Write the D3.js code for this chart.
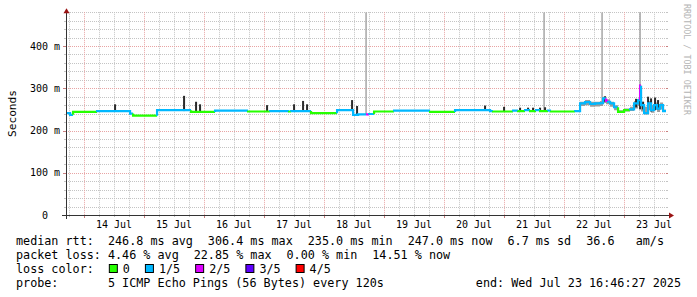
<!DOCTYPE html>
<html>
<head>
<meta charset="utf-8">
<script src="https://cdn.jsdelivr.net/npm/d3@7"></script>
<style>
  html, body { margin: 0; padding: 0; background: #fff; }
  svg { display: block; }
  text { font-family: "DejaVu Sans Mono", monospace; white-space: pre; }
</style>
</head>
<body>
<svg id="chart" width="697" height="297"></svg>
<script>
// 시간축: 13 Jul 00:00 기준 시간(h)
const endTime = new Date(2025, 6, 23, 16, 46, 27);
const startTime = new Date(endTime.getTime() - 10 * 24 * 3600e3);
const baseDay = new Date(2025, 6, 13);

// median rtt (ms), 스텝 시작 시각, loss 단계 (0..4)
const medHours = [16.8, 18.4, 19.6, 29.2, 42.4, 43.6, 53.2, 66.8, 76.4, 89.6, 98.4, 106.0, 106.8, 114.8, 125.2, 131.6, 133.6, 136.8, 138.0, 140.0, 148.0, 162.4, 172.4, 186.4, 187.6, 195.6, 197.6, 200.4, 202.4, 204.8, 206.4, 209.6, 210.8, 220.4, 222.4, 224.4, 226.4, 228.4, 230.4, 231.6, 232.8, 233.6, 234.4, 236.0, 237.6, 240.0, 242.4, 244.0, 245.6, 246.4, 246.8, 248.0, 249.6, 250.8, 252.0, 253.2, 254.4, 255.6];
const medMs = [241, 237, 244, 246, 240, 235, 248, 244, 247, 245, 246, 245, 246, 241, 248, 237, 238, 238, 239, 245, 247, 244, 248, 246, 245, 247, 246, 248, 246, 248, 246, 247, 245, 246, 264, 267, 263, 264, 265, 276, 270, 268, 264, 255, 244, 248, 250, 264, 272, 306, 260, 241, 264, 248, 260, 252, 260, 246];
const medLoss = [1, 1, 0, 1, 1, 0, 1, 0, 1, 0, 1, 0, 1, 0, 1, 1, 1, 2, 1, 0, 1, 0, 1, 1, 0, 1, 0, 1, 0, 1, 0, 1, 0, 1, 1, 1, 1, 1, 1, 1, 2, 1, 1, 1, 0, 0, 1, 1, 1, 2, 1, 1, 1, 1, 1, 1, 1, 1];

// 짙은 smoke 스파이크
const spikeHours = [36.4, 64.0, 68.8, 70.4, 97.2, 108.0, 111.6, 113.2, 131.2, 133.2, 184.4, 192.0, 198.4, 201.6, 203.6, 206.4, 208.4, 232.4, 244.8, 246.4, 247.6, 249.6, 250.8, 252.4, 253.6];
const spikeLo = [246, 246, 246, 246, 245, 246, 246, 246, 248, 238, 248, 245, 247, 247, 247, 247, 247, 268, 255, 250, 250, 245, 245, 248, 250];
const spikeHi = [262, 282, 268, 262, 260, 262, 270, 262, 272, 258, 259, 256, 254, 254, 254, 254, 255, 281, 275, 308, 268, 280, 276, 278, 272];

// 옅은 smoke 띠 (22~23 Jul)
const bandHours = [222.4, 224.4, 226.4, 228.4, 230.4, 231.6, 232.8, 234.4, 236.0, 237.6, 240.0, 242.4, 244.0, 245.6, 246.8, 248.0, 249.6, 250.8, 252.0, 253.2, 254.4, 255.6];
const bandLo = [258, 260, 256, 257, 258, 265, 262, 256, 248, 242, 245, 246, 252, 258, 245, 238, 248, 242, 250, 244, 250, 244];
const bandHi = [268, 272, 268, 268, 270, 280, 274, 268, 260, 248, 252, 256, 270, 276, 268, 256, 270, 260, 266, 262, 266, 250];

// 위로 튀는 회색 선
const outlierHours = [136.8, 208.0, 231.2, 246.4];
const outlierLo = [238, 248, 265, 300];

const yMajor = [0, 100, 200, 300, 400];
const lossLabels = ["0", "1/5", "2/5", "3/5", "4/5"];
const lossColors = ["#26ff00", "#00b8ff", "#dd00ff", "#5e00ff", "#ff0000"];

const legendRows = [
  ["median rtt:  246.8 ms avg", "306.4 ms max", "235.0 ms min", "247.0 ms now", "6.7 ms sd", "36.6   am/s"],
  ["packet loss: 4.46 % avg", "22.85 % max", "0.00 % min", "14.51 % now"]
];
const probeText = "probe:       5 ICMP Echo Pings (56 Bytes) every 120s";
const endText = "end: Wed Jul 23 16:46:27 2025";

const svg = d3.select("#chart");
const X0 = 66, X1 = 666, Y0 = 215, Y1 = 12.2;
const hourToDate = h => new Date(baseDay.getTime() + h * 3600e3);

const x = d3.scaleTime().domain([startTime, endTime]).range([X0, X1]);
const y = d3.scaleLinear().domain([0, 480]).range([Y0, Y1]);

const gridCol = "#c4c4c4", mgridCol = "#e8a4a4", mtickCol = "#c88080";

// 그리드
const grid = svg.append("g");
const minorY = d3.range(20, 481, 20).filter(v => v % 100 !== 0);
minorY.forEach(v => {
  const yy = Math.round(y(v)) + 0.5;
  grid.append("line").attr("x1", X0).attr("x2", X1).attr("y1", yy).attr("y2", yy)
    .attr("stroke", gridCol).attr("stroke-dasharray", "1,1");
  grid.append("line").attr("x1", X0 - 2).attr("x2", X0).attr("y1", yy).attr("y2", yy).attr("stroke", gridCol);
  grid.append("line").attr("x1", X1).attr("x2", X1 + 2).attr("y1", yy).attr("y2", yy).attr("stroke", gridCol);
});
const minorX = d3.timeHour.every(6).range(startTime, endTime).filter(d => d.getHours() !== 0);
minorX.forEach(d => {
  const xx = Math.round(x(d)) + 0.5;
  grid.append("line").attr("x1", xx).attr("x2", xx).attr("y1", Y1).attr("y2", Y0)
    .attr("stroke", gridCol).attr("stroke-dasharray", "1,1");
  grid.append("line").attr("x1", xx).attr("x2", xx).attr("y1", Y0).attr("y2", Y0 + 2).attr("stroke", gridCol);
});
yMajor.filter(v => v > 0).forEach(v => {
  const yy = Math.round(y(v)) + 0.5;
  grid.append("line").attr("x1", X0).attr("x2", X1).attr("y1", yy).attr("y2", yy)
    .attr("stroke", mgridCol).attr("stroke-dasharray", "1,1");
  grid.append("line").attr("x1", X0 - 3).attr("x2", X0).attr("y1", yy).attr("y2", yy).attr("stroke", mtickCol);
  grid.append("line").attr("x1", X1).attr("x2", X1 + 2).attr("y1", yy).attr("y2", yy).attr("stroke", mtickCol);
});
d3.timeDay.range(startTime, endTime).forEach(d => {
  const xx = Math.round(x(d)) + 0.5;
  grid.append("line").attr("x1", xx).attr("x2", xx).attr("y1", Y1).attr("y2", Y0)
    .attr("stroke", mgridCol).attr("stroke-dasharray", "1,1");
  grid.append("line").attr("x1", xx).attr("x2", xx).attr("y1", Y0).attr("y2", Y0 + 3).attr("stroke", mtickCol);
});

// 데이터 영역
svg.append("clipPath").attr("id", "plot")
  .append("rect").attr("x", X0).attr("y", Y1).attr("width", X1 - X0).attr("height", Y0 - Y1);
const plot = svg.append("g").attr("clip-path", "url(#plot)");

const stepPts = hours => hours.flatMap((h, i) => {
  const next = i + 1 < hours.length ? hourToDate(hours[i + 1]) : endTime;
  return [{ t: hourToDate(h), i }, { t: next, i }];
});

// 옅은 smoke
plot.append("path")
  .attr("d", d3.area().x(d => x(d.t)).y0(d => y(bandLo[d.i])).y1(d => y(bandHi[d.i]))(stepPts(bandHours)))
  .attr("fill", "#9c9c9c");

// 회색 outlier
outlierHours.forEach((h, i) => {
  plot.append("line")
    .attr("x1", x(hourToDate(h))).attr("x2", x(hourToDate(h)))
    .attr("y1", y(outlierLo[i])).attr("y2", y(480))
    .attr("stroke", "#a0a0a0").attr("stroke-width", 1.4);
});

// 짙은 smoke
plot.selectAll("rect.spike").data(spikeHours).join("rect")
  .attr("class", "spike")
  .attr("x", h => x(hourToDate(h)) - 1)
  .attr("width", 2)
  .attr("y", (h, i) => y(spikeHi[i]))
  .attr("height", (h, i) => y(spikeLo[i]) - y(spikeHi[i]))
  .attr("fill", "#2a2a2a");

// median 선: loss 단계별로 끊어서 그림 (앞 구간 값에서 세로로 이어짐)
const runs = [];
medHours.forEach((h, i) => {
  const next = i + 1 < medHours.length ? hourToDate(medHours[i + 1]) : endTime;
  let run = runs[runs.length - 1];
  if (!run || run.loss !== medLoss[i]) {
    run = { loss: medLoss[i], pts: [] };
    if (i > 0) run.pts.push({ t: hourToDate(h), v: medMs[i - 1] });
    runs.push(run);
  }
  run.pts.push({ t: hourToDate(h), v: medMs[i] }, { t: next, v: medMs[i] });
});
const medLine = d3.line().x(d => x(d.t)).y(d => y(d.v));
runs.forEach(r => {
  plot.append("path").attr("d", medLine(r.pts))
    .attr("fill", "none").attr("stroke", lossColors[r.loss]).attr("stroke-width", 2.2);
});

// 축
const axisCol = "#333";
svg.append("line").attr("x1", X0 - 4).attr("x2", X1 + 4).attr("y1", Y0 + 0.5).attr("y2", Y0 + 0.5).attr("stroke", axisCol);
svg.append("line").attr("x1", X0 + 0.5).attr("x2", X0 + 0.5).attr("y1", Y0 + 4).attr("y2", Y1 - 2).attr("stroke", axisCol);
svg.append("path").attr("d", `M${X1 + 3},${Y0 - 2.5} L${X1 + 8},${Y0 + 0.5} L${X1 + 3},${Y0 + 3.5} Z`).attr("fill", "#9a1414");
svg.append("path").attr("d", `M${X0 - 2.5},${Y1 + 1} L${X0 + 0.5},${Y1 - 4} L${X0 + 3.5},${Y1 + 1} Z`).attr("fill", "#9a1414");

// y 눈금 라벨
svg.selectAll("text.ylab").data(yMajor).join("text")
  .attr("class", "ylab")
  .attr("x", 60).attr("y", v => y(v)).attr("dy", "0.36em")
  .attr("text-anchor", "end").attr("font-size", 10).attr("fill", "#000")
  .text(v => v === 0 ? "0  " : `${v} m`);

// x 눈금 라벨 (정오 위치)
const fmtDay = d3.timeFormat("%d %b");
const noonTicks = d3.timeDay.range(startTime, endTime).map(d => d3.timeHour.offset(d, 12)).filter(d => d < endTime);
svg.selectAll("text.xlab").data(noonTicks).join("text")
  .attr("class", "xlab")
  .attr("x", d => x(d)).attr("y", 228)
  .attr("text-anchor", "middle").attr("font-size", 10).attr("fill", "#000")
  .text(d => fmtDay(d));

// 축 제목, 워터마크
svg.append("text").attr("transform", "translate(15.5,113.5) rotate(-90)")
  .attr("text-anchor", "middle").attr("font-size", 11.2).attr("fill", "#000").text("Seconds");
svg.append("text").attr("transform", "translate(684,4) rotate(90)")
  .attr("font-size", 8.4).attr("fill", "#b4b4b4").text("RRDTOOL / TOBI OETIKER");

// 범례
const lf = 11.75, gap = 15;
const rowBase = [245, 259, 273, 287];
legendRows.forEach((row, r) => {
  let cx = 16;
  row.forEach(s => {
    const t = svg.append("text").attr("x", cx).attr("y", rowBase[r]).attr("font-size", lf).attr("fill", "#000").text(s);
    cx += t.node().getComputedTextLength() + gap;
  });
});
{
  let cx = 16;
  const t = svg.append("text").attr("x", cx).attr("y", rowBase[2]).attr("font-size", lf).text("loss color:");
  cx += t.node().getComputedTextLength() + gap;
  lossLabels.forEach((lab, i) => {
    svg.append("rect").attr("x", cx + 0.5).attr("y", rowBase[2] - 8.5).attr("width", 8).attr("height", 8)
      .attr("fill", lossColors[i]).attr("stroke", "#000");
    cx += 14;
    const tl = svg.append("text").attr("x", cx).attr("y", rowBase[2]).attr("font-size", lf).text(lab);
    cx += tl.node().getComputedTextLength() + gap;
  });
}
svg.append("text").attr("x", 16).attr("y", rowBase[3]).attr("font-size", lf).text(probeText);
svg.append("text").attr("x", 681).attr("y", rowBase[3]).attr("text-anchor", "end").attr("font-size", lf).text(endText);
</script>
</body>
</html>
